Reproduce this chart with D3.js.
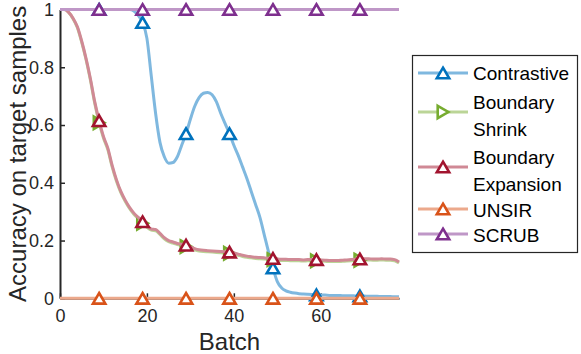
<!DOCTYPE html>
<html><head><meta charset="utf-8">
<script src="https://cdn.jsdelivr.net/npm/d3@7"></script>
<style>body{margin:0;background:#fff}svg{display:block}</style>
</head><body>
<svg id="c" width="581" height="354"></svg>
<script>
const batches = d3.range(0, 79);
const markerBatches = [9, 19, 29, 39, 49, 59, 69];
const xTicks = [0, 20, 40, 60];
const yTicks = [0, 0.2, 0.4, 0.6, 0.8, 1];
const yTickLabels = ["0", "0.2", "0.4", "0.6", "0.8", "1"];

const contrastive = [
 1,1,1,1,1,1,1,1,1,1, 1,1,1,1,1,1,1,0.995,0.98,0.955,
 0.9,0.77,0.64,0.54,0.49,0.468,0.47,0.49,0.53,0.57,
 0.62,0.665,0.695,0.71,0.713,0.705,0.68,0.64,0.605,0.57,
 0.53,0.495,0.455,0.415,0.37,0.325,0.28,0.22,0.16,0.105,
 0.058,0.036,0.026,0.021,0.018,0.016,0.015,0.014,0.013,0.012,
 0.011,0.011,0.010,0.010,0.010,0.009,0.009,0.009,0.008,0.008,
 0.008,0.007,0.007,0.007,0.006,0.006,0.006,0.005,0.005];
const boundaryExpansion = [
 1,1,0.99,0.97,0.94,0.89,0.83,0.76,0.68,0.615,
 0.56,0.52,0.46,0.41,0.37,0.34,0.315,0.295,0.28,0.265,
 0.25,0.24,0.238,0.225,0.21,0.2,0.195,0.19,0.187,0.184,
 0.178,0.172,0.168,0.166,0.165,0.164,0.163,0.162,0.161,0.16,
 0.157,0.153,0.149,0.146,0.144,0.142,0.141,0.14,0.139,0.138,
 0.136,0.135,0.135,0.134,0.134,0.134,0.133,0.134,0.134,0.134,
 0.133,0.132,0.131,0.131,0.131,0.132,0.133,0.134,0.135,0.136,
 0.137,0.137,0.136,0.136,0.137,0.136,0.136,0.134,0.126];
const boundaryShrink = [
 1,1,0.99,0.968,0.937,0.886,0.826,0.755,0.675,0.608,
 0.555,0.515,0.455,0.405,0.366,0.336,0.311,0.291,0.276,0.26,
 0.246,0.236,0.234,0.221,0.206,0.196,0.191,0.186,0.183,0.179,
 0.174,0.168,0.164,0.162,0.161,0.16,0.159,0.158,0.157,0.156,
 0.153,0.149,0.145,0.142,0.14,0.138,0.137,0.136,0.135,0.134,
 0.132,0.131,0.131,0.13,0.13,0.13,0.129,0.13,0.13,0.13,
 0.129,0.128,0.127,0.127,0.127,0.128,0.129,0.13,0.131,0.132,
 0.133,0.133,0.132,0.132,0.133,0.132,0.132,0.13,0.122];
const unsir = batches.map(() => 0);
const scrub = batches.map(() => 1);

const series = [
 {name: "Contrastive", values: contrastive, line: "#7fb8df", mk: "#0072bd", shape: "up"},
 {name: "Boundary Shrink", values: boundaryShrink, line: "#bbd597", mk: "#77ac30", shape: "right"},
 {name: "Boundary Expansion", values: boundaryExpansion, line: "#d08995", mk: "#a2142f", shape: "up"},
 {name: "UNSIR", values: unsir, line: "#eca98c", mk: "#d95319", shape: "up"},
 {name: "SCRUB", values: scrub, line: "#bf97c7", mk: "#7e2f8e", shape: "up"}
];
const legendLines = [["Contrastive"], ["Boundary", "Shrink"], ["Boundary", "Expansion"], ["UNSIR"], ["SCRUB"]];

const svg = d3.select("#c");
const x = d3.scaleLinear().domain([0, 78]).range([60, 399]);
const y = d3.scaleLinear().domain([0, 1]).range([298.3, 9.5]);
const font = "'Liberation Sans', Arial, Helvetica, sans-serif";
const axisCol = "#262626";

function tri(shape) {
  const w = 6.2, h = 10.6;
  if (shape === "right") return `M${-h/2},${-w}L${h/2},0L${-h/2},${w}Z`;
  return `M0,${-h/2}L${w},${h/2}L${-w},${h/2}Z`;
}

// axes
const gx = svg.append("g").attr("transform", `translate(0,${y(0)})`)
  .call(d3.axisBottom(x).tickValues(xTicks).tickSizeInner(-5).tickSizeOuter(0).tickPadding(14));
const gy = svg.append("g").attr("transform", `translate(${x(0)},0)`)
  .call(d3.axisLeft(y).tickValues(yTicks).tickFormat((d,i) => yTickLabels[i]).tickSizeInner(-5).tickSizeOuter(0).tickPadding(6));
[gx, gy].forEach(g => {
  g.select(".domain").attr("stroke", axisCol).attr("stroke-width", 2);
  g.selectAll(".tick line").attr("stroke", axisCol).attr("stroke-width", 1.5);
  g.selectAll(".tick text").attr("fill", axisCol).style("font-family", font).style("font-size", "18px");
});
gx.selectAll(".tick text").attr("dy", "0.55em");

// lines
const line = d3.line().x((d, i) => x(batches[i])).y(d => y(d)).curve(d3.curveMonotoneX);
series.forEach(s => {
  svg.append("path").attr("d", line(s.values)).attr("fill", "none")
    .attr("stroke", s.line).attr("stroke-width", 3).attr("stroke-linejoin", "round");
  svg.selectAll(null).data(markerBatches).enter().append("path")
    .attr("d", tri(s.shape))
    .attr("transform", b => `translate(${x(b)},${y(s.values[batches.indexOf(b)])})`)
    .attr("fill", "#fff").attr("stroke", s.mk).attr("stroke-width", 2.6).attr("stroke-linejoin", "miter");
});

// axis labels
svg.append("text").attr("x", 229.5).attr("y", 350).attr("text-anchor", "middle")
  .attr("fill", axisCol).style("font-family", font).style("font-size", "24px").text("Batch");
svg.append("text").attr("transform", `translate(26,${(y(0)+y(1))/2}) rotate(-90)`).attr("text-anchor", "middle")
  .attr("fill", axisCol).style("font-family", font).style("font-size", "24px").text("Accuracy on target samples");

// legend
const lg = svg.append("g");
lg.append("rect").attr("x", 412.5).attr("y", 55.5).attr("width", 165).attr("height", 197)
  .attr("fill", "#fff").attr("stroke", axisCol).attr("stroke-width", 1.2);
const sampleY = [73, 112, 167, 209, 234];
const textY = [[80], [108.5, 135.5], [163.5, 190.5], [216.5], [241.5]];
series.forEach((s, i) => {
  lg.append("line").attr("x1", 418).attr("x2", 468).attr("y1", sampleY[i]).attr("y2", sampleY[i])
    .attr("stroke", s.line).attr("stroke-width", 3);
  lg.append("path").attr("d", tri(s.shape)).attr("transform", `translate(443,${sampleY[i]})`)
    .attr("fill", "#fff").attr("stroke", s.mk).attr("stroke-width", 2.6);
  legendLines[i].forEach((t, j) => {
    lg.append("text").attr("x", 473).attr("y", textY[i][j]).attr("fill", "#000")
      .style("font-family", font).style("font-size", "19px").text(t);
  });
});
</script>
</body></html>
